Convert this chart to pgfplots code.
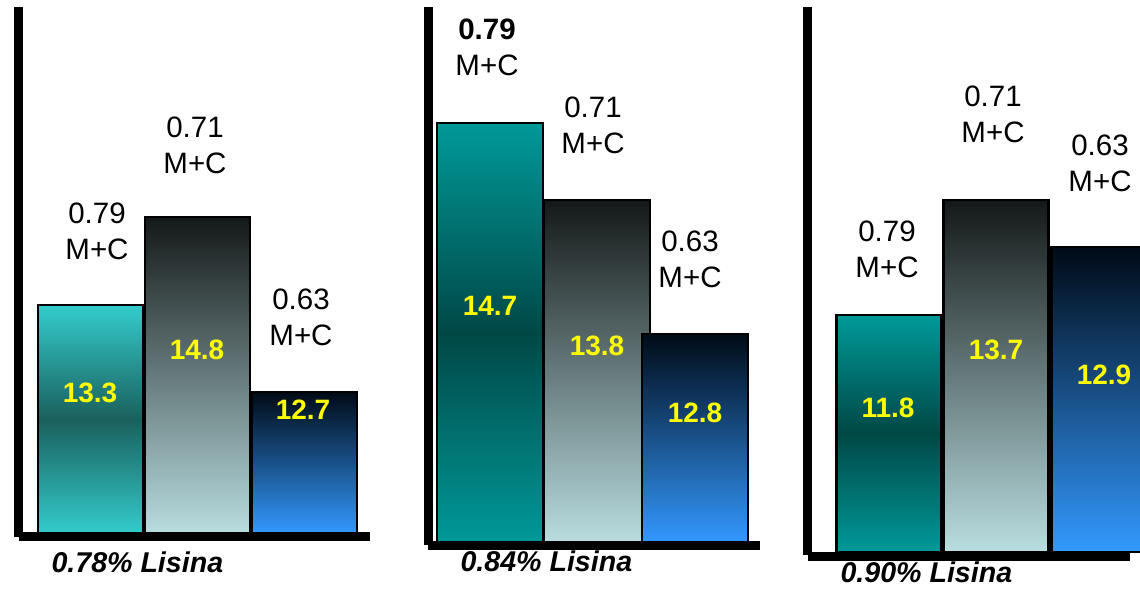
\documentclass[border=0pt]{standalone}
\usepackage{pgfplots}
\pgfplotsset{compat=1.18}
\usepackage{fontspec}
\setmainfont{Liberation Sans}
\definecolor{tealLa}{HTML}{33CCCC}
\definecolor{tealDa}{HTML}{1A605C}
\definecolor{tealLb}{HTML}{009999}
\definecolor{tealDb}{HTML}{004846}
\definecolor{greyTop}{HTML}{141818}
\definecolor{greyBot}{HTML}{B9DDE0}
\definecolor{blueTop}{HTML}{000A16}
\definecolor{blueBot}{HTML}{3399FF}
\definecolor{valYellow}{HTML}{FFFF00}
\tikzset{
  mc/.style={align=center, font=\fontsize{29.5bp}{36bp}\selectfont, text=black},
  val/.style={font=\fontsize{28bp}{34bp}\selectfont\bfseries, text=valYellow},
  lis/.style={anchor=base west, font=\fontsize{28.6bp}{34bp}\selectfont\bfseries\itshape},
}
\pgfplotsset{
  panel/.style={hide axis, scale only axis, clip=false, height=589bp, anchor=south west},
  barA/.style={ybar, bar shift=0pt, bar width=105, draw=black, line width=2.5bp},
}
\begin{document}
\begin{tikzpicture}
\useasboundingbox (0bp,0bp) rectangle (1140bp,589bp);
% ---------- Panel 1 ----------
\begin{axis}[panel, width=380bp, xmin=0, xmax=380, ymin=-55, ymax=534, at={(0bp,0bp)}]
\addplot[barA, top color=tealLa, bottom color=tealLa, middle color=tealDa] coordinates {(90.5,229)};
\addplot[barA, top color=greyTop, bottom color=greyBot] coordinates {(197.5,317)};
\addplot[barA, top color=blueTop, bottom color=blueBot] coordinates {(304.5,142)};
\node[mc] at (axis cs:97,303) {0.79\\M+C};
\node[mc] at (axis cs:195,389) {0.71\\M+C};
\node[mc] at (axis cs:301,217) {0.63\\M+C};
\node[val] at (axis cs:90,141) {13.3};
\node[val] at (axis cs:197,184) {14.8};
\node[val] at (axis cs:303,124) {12.7};
\draw[line width=8.5bp] (axis cs:18.5,527) -- (axis cs:18.5,-3);
\draw[line width=9bp] (axis cs:19,-2.5) -- (axis cs:370,-2.5);
\node[lis] at (axis cs:48,-38) {0.78\% Lisina};
\end{axis}
% ---------- Panel 2 ----------
\begin{axis}[panel, width=410bp, xmin=380, xmax=790, ymin=-46, ymax=543, at={(380bp,0bp)}]
\addplot[barA, bar width=106, top color=tealLb, bottom color=tealLb, middle color=tealDb] coordinates {(490,420)};
\addplot[barA, bar width=106, top color=greyTop, bottom color=greyBot] coordinates {(597,343)};
\addplot[barA, bar width=106, top color=blueTop, bottom color=blueBot] coordinates {(695,209)};
\node[mc] at (axis cs:487,496) {\textbf{0.79}\\M+C};
\node[mc] at (axis cs:593,418) {0.71\\M+C};
\node[mc] at (axis cs:690,284) {0.63\\M+C};
\node[val] at (axis cs:490,237) {14.7};
\node[val] at (axis cs:597,197) {13.8};
\node[val] at (axis cs:695,130) {12.8};
\draw[line width=8.5bp] (axis cs:428.5,536) -- (axis cs:428.5,-2);
\draw[line width=9bp] (axis cs:428,-3) -- (axis cs:760,-3);
\node[lis] at (axis cs:457,-28) {0.84\% Lisina};
\end{axis}
% ---------- Panel 3 ----------
\begin{axis}[panel, width=350bp, xmin=790, xmax=1140, ymin=-37, ymax=552, at={(790bp,0bp)}]
\addplot[barA, top color=tealLb, bottom color=tealLb, middle color=tealDb] coordinates {(889,237)};
\addplot[barA, top color=greyTop, bottom color=greyBot] coordinates {(996,352)};
\addplot[barA, top color=blueTop, bottom color=blueBot] coordinates {(1104,305)};
\node[mc] at (axis cs:887,303) {0.79\\M+C};
\node[mc] at (axis cs:993,438) {0.71\\M+C};
\node[mc] at (axis cs:1100,389) {0.63\\M+C};
\node[val] at (axis cs:888,144) {11.8};
\node[val] at (axis cs:996,202) {13.7};
\node[val] at (axis cs:1104,177) {12.9};
\draw[line width=8.5bp] (axis cs:807.5,545) -- (axis cs:807.5,-3);
\draw[line width=9bp] (axis cs:808,-4.5) -- (axis cs:1130,-4.5);
\node[lis] at (axis cs:837,-30) {0.90\% Lisina};
\end{axis}
\end{tikzpicture}
\end{document}
